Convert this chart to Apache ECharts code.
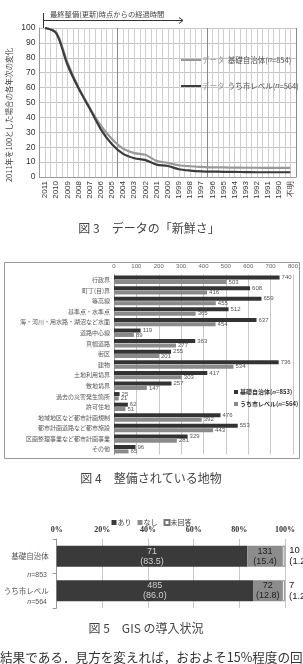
<!DOCTYPE html>
<html>
<head>
<meta charset="utf-8">
<script src="https://cdn.jsdelivr.net/npm/echarts@6/dist/echarts.min.js"></script>
<style>
  html, body { margin: 0; padding: 0; background: #fff; }
  #chart { width: 303px; height: 664px; }
</style>
</head>
<body>
<div id="chart"></div>
<script>
// 図3 データの「新鮮さ」
const years = ['2011', '2010', '2009', '2008', '2007', '2006', '2005', '2004', '2003', '2002', '2001', '2000',
  '1999', '1998', '1997', '1996', '1995', '1994', '1993', '1992', '1991', '1990', '不明'];
const basicTrend = [100, 97, 77, 60, 46.5, 34.5, 25.5, 19, 16, 14.9, 10.8, 9.5, 7.9, 7.2, 6.8, 6.5, 6.4, 6.3, 6.2, 6.2, 6.1, 6.1, 6.1];
const cityTrend = [100, 96.5, 75.5, 59.5, 46, 32, 22, 15.5, 12.6, 11.3, 8.3, 7.4, 5.2, 4.3, 3.8, 3.6, 3.5, 3.4, 3.3, 3.2, 3.2, 3.2, 3.2];

// 図4 整備されている地物
const features = ['行政界', '町丁(目)界', '等高線', '基準点・水準点', '海・河川・用水路・湖沼など水面', '道路中心線',
  '真幅道路', '街区', '建物', '土地利用境界', '敷地境界', '過去の災害発生箇所', '許可住地',
  '地域地区など都市計画規制', '都市計画道路など都市施設', '区画整理事業など都市計画事業', 'その他'];
const basicCount = [740, 608, 659, 512, 637, 119, 363, 255, 736, 417, 257, 25, 62, 476, 553, 329, 96];
const cityCount = [503, 416, 455, 365, 454, 89, 277, 201, 534, 303, 147, 21, 51, 392, 443, 281, 65];

// 図5 GIS の導入状況
const gisRows = ['基礎自治体', 'うち市レベル'];
const yesCount = [71, 485];
const noCount = [131, 72];
const naCount = [10, 7];
const yesPct = [83.5, 86.0];
const noPct = [15.4, 12.8];
const naPct = [1.2, 1.2];

const halfSteps = [];
for (let i = 0; i <= 46; i++) halfSteps.push(String(i));

const JP = '"Noto Sans CJK JP", sans-serif';
const SANS = '"Liberation Sans", Arial, sans-serif';

const chart = echarts.init(document.getElementById('chart'));

const pctLabel = (counts, pcts) => (p) => counts[p.dataIndex] + '\n(' + pcts[p.dataIndex].toFixed(1) + ')';

const option = {
  animation: false,
  backgroundColor: '#fff',
  grid: [
    { left: 39.5, top: 28, width: 256.5, height: 149 },
    { left: 114, top: 274.5, width: 179, height: 180 },
    { left: 56.7, top: 539, width: 228.3, height: 69 }
  ],
  legend: [
    {
      orient: 'vertical', left: 176, top: 49, itemGap: 14,
      itemWidth: 20, itemHeight: 2, icon: 'rect',
      data: ['basic3', 'city3'],
      formatter: (name) => name === 'basic3'
        ? '{a|データ} {b|基礎自治体(}{i|n}{b|=854)}'
        : '{a|データ} {b|うち市レベル(}{i|n}{b|=564)}',
      textStyle: {
        padding: [0, 0, 0, -4],
        rich: {
          a: { fontSize: 7.5, color: '#999', fontFamily: JP },
          b: { fontSize: 7.5, color: '#555', fontFamily: JP },
          i: { fontSize: 7.5, color: '#555', fontStyle: 'italic', fontFamily: SANS }
        }
      }
    },
    {
      orient: 'vertical', left: 229, top: 384, itemGap: 6,
      itemWidth: 4, itemHeight: 4, icon: 'rect',
      data: ['basic4', 'city4'],
      formatter: (name) => name === 'basic4'
        ? '{b|基礎自治体(}{i|n}{b|=853)}' : '{b|うち市レベル(}{i|n}{b|=564)}',
      textStyle: {
        padding: [0, 0, 0, -3],
        rich: {
          b: { fontSize: 6, color: '#333', fontWeight: 'bold', fontFamily: JP },
          i: { fontSize: 6, color: '#333', fontStyle: 'italic', fontWeight: 'bold', fontFamily: SANS }
        }
      }
    },
    {
      orient: 'horizontal', left: 'center', top: 514, itemGap: 6,
      itemWidth: 5, itemHeight: 5, icon: 'rect',
      data: ['あり', 'なし', '未回答'],
      textStyle: { fontSize: 7, color: '#444', fontFamily: JP, padding: [0, 0, 0, -4] }
    }
  ],
  xAxis: [
    {
      gridIndex: 0, type: 'category', data: years, boundaryGap: true,
      axisLine: { lineStyle: { color: '#999' } },
      axisTick: { show: false },
      splitLine: { show: false },
      axisLabel: { rotate: 90, fontSize: 8, color: '#333', fontFamily: SANS, margin: 4, interval: 0 }
    },
    {
      gridIndex: 0, type: 'value', min: 0, max: 46, interval: 1,
      axisLine: { show: false }, axisTick: { show: false }, axisLabel: { show: false },
      splitLine: { show: true, lineStyle: { color: '#cfcfcf', width: 1 } }
    },
    {
      gridIndex: 0, type: 'category', data: halfSteps, boundaryGap: false,
      axisLine: { show: false }, axisTick: { show: false }, axisLabel: { show: false },
      splitLine: { show: true, interval: (i) => i === 14 || i === 30 || i === 46, lineStyle: { color: '#888', width: 1 } }
    },
    {
      gridIndex: 1, type: 'value', position: 'top', min: 0, max: 800, interval: 100,
      axisLine: { show: false }, axisTick: { show: false },
      axisLabel: { fontSize: 6, color: '#666', fontFamily: SANS, margin: 5 },
      splitLine: { lineStyle: { color: '#c8c8c8' } }
    },
    {
      gridIndex: 2, type: 'value', position: 'top', min: 0, max: 100, interval: 20,
      axisLine: { show: false }, axisTick: { show: false },
      axisLabel: { fontSize: 8, color: '#333', fontWeight: 'bold', fontFamily: '"Liberation Serif", serif', formatter: '{value}%', margin: 5 },
      splitLine: { lineStyle: { color: '#c8c8c8' } }
    }
  ],
  yAxis: [
    {
      gridIndex: 0, type: 'value', min: 0, max: 100, interval: 10,
      axisLine: { show: true, lineStyle: { color: '#999' } }, axisTick: { show: false },
      axisLabel: { fontSize: 8.5, color: '#333', fontFamily: SANS, margin: 4 },
      splitLine: { lineStyle: { color: '#c4c4c4' } }
    },
    {
      gridIndex: 1, type: 'category', data: features, inverse: true,
      axisLine: { lineStyle: { color: '#999' } }, axisTick: { show: false },
      axisLabel: { fontSize: 6, color: '#555', fontFamily: JP, margin: 4, interval: 0 }
    },
    {
      gridIndex: 2, type: 'category', data: gisRows, inverse: true,
      axisLine: { lineStyle: { color: '#999' } },
      axisTick: { show: true, length: 4, lineStyle: { color: '#999' } },
      axisLabel: { fontSize: 7.5, color: '#555', fontFamily: JP, margin: 8 }
    }
  ],
  series: [
    {
      name: 'basic3', type: 'line', xAxisIndex: 0, yAxisIndex: 0, data: basicTrend,
      smooth: 0.3, symbol: 'none', lineStyle: { color: '#999', width: 2.2 }, itemStyle: { color: '#999' }
    },
    {
      name: 'city3', type: 'line', xAxisIndex: 0, yAxisIndex: 0, data: cityTrend,
      smooth: 0.3, symbol: 'none', lineStyle: { color: '#3c3c3c', width: 2.2 }, itemStyle: { color: '#3c3c3c' }
    },
    {
      name: 'basic4', type: 'bar', xAxisIndex: 3, yAxisIndex: 1, data: basicCount,
      barWidth: 4, barGap: '10%', itemStyle: { color: '#333' },
      label: { show: true, position: 'right', distance: 2, fontSize: 6, color: '#555', fontFamily: SANS }
    },
    {
      name: 'city4', type: 'bar', xAxisIndex: 3, yAxisIndex: 1, data: cityCount,
      barWidth: 4, itemStyle: { color: '#8a8a8a' },
      label: { show: true, position: 'right', distance: 2, fontSize: 6, color: '#555', fontFamily: SANS }
    },
    {
      name: 'あり', type: 'bar', stack: 'gis', xAxisIndex: 4, yAxisIndex: 2, data: yesPct,
      barWidth: 21, itemStyle: { color: '#3a3a3a' },
      label: { show: true, position: 'inside', fontSize: 9, lineHeight: 10, color: '#cfcfcf', fontFamily: SANS, formatter: pctLabel(yesCount, yesPct) }
    },
    {
      name: 'なし', type: 'bar', stack: 'gis', xAxisIndex: 4, yAxisIndex: 2, data: noPct,
      barWidth: 21, itemStyle: { color: '#8c8c8c' },
      label: { show: true, position: 'inside', fontSize: 9, lineHeight: 10, color: '#222', fontFamily: SANS, formatter: pctLabel(noCount, noPct) }
    },
    {
      name: '未回答', type: 'bar', stack: 'gis', xAxisIndex: 4, yAxisIndex: 2, data: naPct,
      barWidth: 21, itemStyle: { color: '#fff', borderColor: '#777', borderWidth: 0.8 },
      label: { show: true, position: 'right', distance: 4, fontSize: 9.5, lineHeight: 11, color: '#222', fontFamily: SANS, formatter: pctLabel(naCount, naPct) }
    }
  ],
  graphic: [
    // 経過時間の矢印
    { type: 'line', shape: { x1: 43.5, y1: 13, x2: 43.5, y2: 28 }, style: { stroke: '#333', lineWidth: 1 } },
    { type: 'line', shape: { x1: 43.5, y1: 20.5, x2: 183, y2: 20.5 }, style: { stroke: '#333', lineWidth: 1 } },
    { type: 'polyline', shape: { points: [[179, 17.5], [183, 20.5], [179, 23.5]] }, style: { stroke: '#333', lineWidth: 1, fill: null } },
    { type: 'text', x: 50, y: 14, style: { text: '最終整備(更新)時点からの経過時間', fontSize: 7.3, fill: '#444', fontFamily: JP, verticalAlign: 'middle' } },
    { type: 'text', x: 9, y: 115, rotation: Math.PI / 2, style: { text: '2011年を100とした場合の各年次の変化', fontSize: 7.5, fill: '#444', fontFamily: JP, align: 'center', verticalAlign: 'middle' } },
    // captions
    { type: 'text', x: 149, y: 228, style: { text: '図 3　データの「新鮮さ」', fontSize: 12, fill: '#444', fontFamily: JP, align: 'center', verticalAlign: 'middle' } },
    { type: 'rect', shape: { x: 4.5, y: 262.5, width: 295, height: 196 }, style: { stroke: '#999', fill: null, lineWidth: 1 } },
    { type: 'text', x: 151, y: 478, style: { text: '図 4　整備されている地物', fontSize: 12, fill: '#444', fontFamily: JP, align: 'center', verticalAlign: 'middle' } },
    { type: 'text', x: 47, y: 575, style: { text: '{i|n}{t|=853}', align: 'right', verticalAlign: 'middle', rich: { i: { fontStyle: 'italic', fontSize: 7, fill: '#555', fontFamily: SANS }, t: { fontSize: 7, fill: '#555', fontFamily: SANS } } } },
    { type: 'text', x: 47, y: 602, style: { text: '{i|n}{t|=564}', align: 'right', verticalAlign: 'middle', rich: { i: { fontStyle: 'italic', fontSize: 7, fill: '#555', fontFamily: SANS }, t: { fontSize: 7, fill: '#555', fontFamily: SANS } } } },
    { type: 'text', x: 146, y: 628, style: { text: '図 5　GIS の導入状況', fontSize: 12, fill: '#444', fontFamily: JP, align: 'center', verticalAlign: 'middle' } },
    { type: 'text', x: 0, y: 657, style: { text: '結果である．見方を変えれば，おおよそ15%程度の回', fontSize: 12.6, fill: '#333', fontFamily: JP, verticalAlign: 'middle' } }
  ]
};

chart.setOption(option);
</script>
</body>
</html>
